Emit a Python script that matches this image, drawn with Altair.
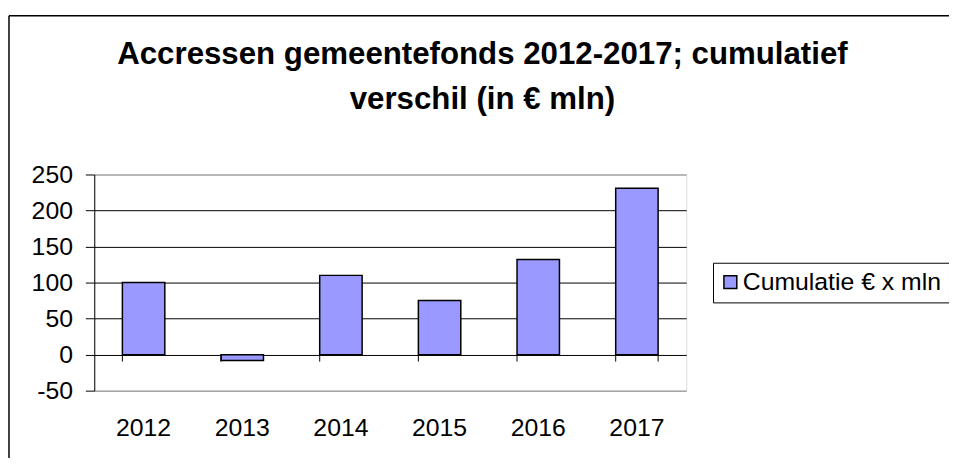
import altair as alt
import pandas as pd

years = ["2012", "2013", "2014", "2015", "2016", "2017"]
values = [100, -8, 110, 75, 132, 231]
series_name = "Cumulatie € x mln"
y_ticks = [-50, 0, 50, 100, 150, 200, 250]
title_lines = ["Accressen gemeentefonds 2012-2017; cumulatief", "verschil (in € mln)"]

df = pd.DataFrame({"year": years, "value": values, "series": [series_name] * len(years)})
frame_df = pd.DataFrame({"a": [0]})

FONT = "Liberation Sans"

xscale = alt.Scale(domain=years, paddingInner=0.57, paddingOuter=0.285)
yscale = alt.Scale(domain=[-50, 250], nice=False, zero=False)

xaxis = alt.Axis(domain=False, ticks=False, tickSize=0, grid=False, labelPadding=25,
                 labelFontSize=25, labelFont=FONT, labelColor="black", labelAngle=0, title=None)
yaxis = alt.Axis(values=y_ticks, domain=True, domainColor="black", domainWidth=1,
                 ticks=True, tickColor="black", tickSize=9, tickWidth=1,
                 grid=True,
                 gridColor=alt.condition("datum.value == 250 || datum.value == -50",
                                         alt.value("#808080"), alt.value("black")),
                 gridWidth=1, labelPadding=13, labelFontSize=25, labelFont=FONT,
                 labelExpr="'' + datum.value",
                 labelColor="black", title=None)

frame_top = alt.Chart(frame_df).mark_rule(color="black", strokeWidth=1.5).encode(
    x=alt.value(-86), x2=alt.value(2000), y=alt.value(-160)
)
frame_left = alt.Chart(frame_df).mark_rule(color="black", strokeWidth=1.5).encode(
    x=alt.value(-86), y=alt.value(-160), y2=alt.value(1000)
)

bars = alt.Chart(df).mark_bar(stroke="black", strokeWidth=1.5).encode(
    x=alt.X("year:N", scale=xscale, axis=xaxis, sort=years),
    y=alt.Y("value:Q", scale=yscale, axis=yaxis),
    color=alt.Color("series:N", scale=alt.Scale(range=["#9999FF"]),
                    legend=alt.Legend(title=None, orient="none", legendX=624, legendY=89,
                                      strokeColor="black", fillColor="white", padding=7,
                                      symbolType="square", symbolSize=169,
                                      symbolStrokeColor="black", symbolStrokeWidth=1.5,
                                      symbolOffset=-2, labelOffset=0, labelLimit=500,
                                      labelFont=FONT, labelFontSize=25, labelColor="black")),
)

ticks = alt.Chart(df).mark_rule(color="black", strokeWidth=1, y2Offset=7).encode(
    x=alt.X("year:N", scale=xscale, axis=xaxis, sort=years, bandPosition=0),
    y=alt.Y(datum=0, axis=yaxis),
    y2=alt.Y2(datum=0),
)

end_tick = alt.Chart(df).transform_filter(alt.datum.year == years[-1]).mark_rule(
    color="black", strokeWidth=1, y2Offset=7).encode(
    x=alt.X("year:N", scale=xscale, axis=xaxis, sort=years, bandPosition=1),
    y=alt.Y(datum=0, axis=yaxis),
    y2=alt.Y2(datum=0),
)

chart = alt.layer(frame_top, frame_left, bars, ticks, end_tick).properties(
    width=597,
    height=218,
    autosize=alt.AutoSizeParams(type="none"),
    padding={"left": 87, "top": 166, "right": 265, "bottom": 66},
    title=alt.TitleParams(text=title_lines, font=FONT, fontSize=31.5, fontWeight="bold",
                          color="black", anchor="middle", dx=93, dy=101, lineHeight=45,
                          offset=0),
).configure_view(
    fill="#C0C0C0", stroke="#808080", strokeWidth=1
).configure(background="white")

chart.save("out.html", embed_options={"renderer": "svg", "actions": False})
